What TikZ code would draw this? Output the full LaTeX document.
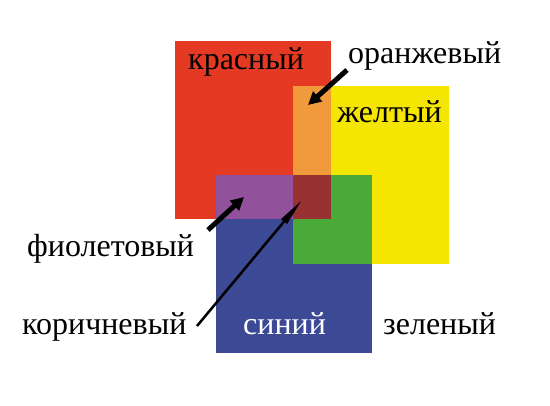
\documentclass[tikz,border=0pt]{standalone}
\usepackage{fontspec}
\setmainfont{Liberation Serif}
\usetikzlibrary{arrows.meta, calc}
\definecolor{redc}{RGB}{228,58,36}
\definecolor{orangec}{RGB}{240,154,60}
\definecolor{yellowc}{RGB}{244,230,0}
\definecolor{purplec}{RGB}{145,82,155}
\definecolor{brownc}{RGB}{152,49,50}
\definecolor{greenc}{RGB}{74,170,56}
\definecolor{bluec}{RGB}{60,74,150}
\begin{document}
\begin{tikzpicture}[x=1pt, y=-1pt,
  colsq/.style={inner sep=0pt, minimum width=156pt, minimum height=178pt},
  lbl/.style={anchor=base west, inner sep=0pt, font=\fontsize{32}{38}\selectfont},
  thickptr/.style={line width=5pt, -{Triangle[length=13pt, width=13pt]}},
  thinptr/.style={line width=2.5pt, -{Triangle[length=28pt, width=7pt]}}]
  \useasboundingbox (0,0) rectangle (550,406);

  \node[colsq, fill=redc] (red) at (253,130) {};
  \node[colsq, fill=yellowc] (yellow) at (371,175) {};
  \node[colsq, fill=bluec] (blue) at (294,264) {};

    % overlaps
    \fill[orangec] (yellow.north west) rectangle (red.east |- blue.north);
    \fill[purplec] (blue.north west) rectangle (yellow.west |- red.south);
    \fill[greenc] (yellow.west |- blue.north) rectangle (blue.east |- yellow.south);
    \fill[brownc] (yellow.west |- blue.north) rectangle (red.south east);

  \node[lbl] (redlbl) at (188,70) {красный};
  \node[lbl] (orangelbl) at (348,64) {оранжевый};
  \node[lbl] (yellowlbl) at (337,123) {желтый};
  \node[lbl] (purplelbl) at (27,257) {фиолетовый};
  \node[lbl] (brownlbl) at (22,335) {коричневый};
  \node[lbl, text=white] (bluelbl) at (243,335) {синий};
  \node[lbl] (greenlbl) at (383,335) {зеленый};

    \coordinate (orangetail) at (347,70);
    \coordinate (orangetip) at (308,105);
    \coordinate (purpletail) at (208,230);
    \coordinate (purpletip) at (244,197);
    \coordinate (browntail) at (197,326);
    \coordinate (browntip) at (302,200);
    \draw[thickptr] (orangetail) -- (orangetip);
    \draw[thickptr] (purpletail) -- (purpletip);
    \draw[thinptr] (browntail) -- (browntip);
\end{tikzpicture}
\end{document}
